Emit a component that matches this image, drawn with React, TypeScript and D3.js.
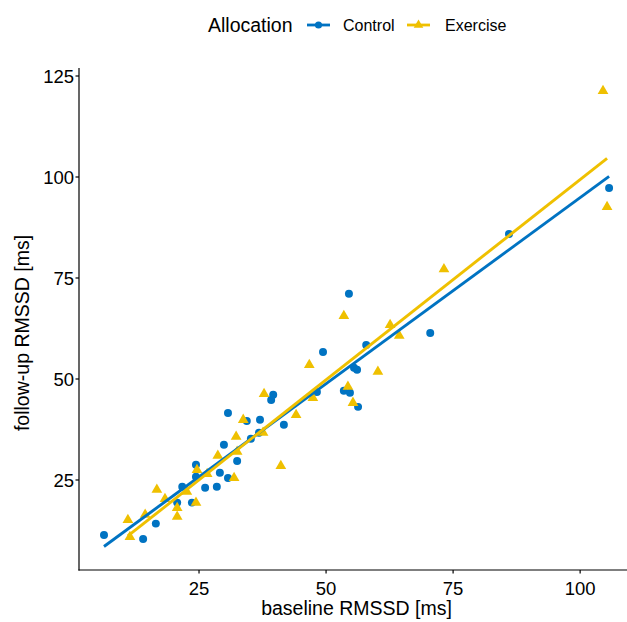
import * as d3 from "d3";

// baseline / follow-up RMSSD [ms]
const controlBaseline = [6.3, 14.0, 16.5, 20.7, 21.7, 23.6, 26.2, 28.5, 24.4, 24.4, 29.1, 30.7, 32.5, 29.9, 30.7, 34.4, 37.0, 35.2, 36.8, 39.2, 39.6, 41.7, 48.2, 49.4, 53.5, 54.7, 55.5, 56.1, 56.3, 57.9, 54.5, 70.5, 86.0, 105.7];
const controlFollowUp = [11.4, 10.4, 14.2, 19.4, 23.3, 19.4, 23.1, 23.3, 25.8, 28.8, 26.8, 25.5, 29.7, 33.7, 41.6, 39.6, 39.9, 35.2, 36.7, 44.8, 46.1, 38.7, 46.8, 56.7, 47.1, 46.6, 52.8, 52.3, 43.1, 58.4, 71.1, 61.4, 85.9, 97.3];
const exerciseBaseline = [11.0, 11.4, 14.4, 16.7, 18.3, 20.7, 20.7, 22.6, 24.4, 24.6, 26.6, 31.9, 28.7, 32.3, 32.5, 33.7, 37.6, 37.8, 41.1, 44.1, 47.4, 46.7, 53.5, 54.3, 55.3, 60.2, 62.6, 64.4, 73.2, 104.5, 105.3];
const exerciseFollowUp = [15.1, 10.9, 16.4, 22.6, 20.3, 18.1, 15.9, 22.1, 19.4, 27.5, 26.5, 25.5, 31.0, 35.7, 32.0, 39.9, 36.7, 46.3, 28.5, 41.1, 45.3, 53.5, 65.6, 48.1, 44.1, 51.8, 63.4, 60.7, 77.2, 121.3, 92.6];

const groups = ["Control", "Exercise"];
const colors = ["#0073C2", "#EFC000"];
const xTicks = [25, 50, 75, 100];
const yTicks = [25, 50, 75, 100, 125];

const W = 627;
const H = 622;
const PANEL = { left: 79, right: 634, top: 68, bottom: 570 };
const FONT = "'Liberation Sans', Arial, sans-serif";

// least squares fit, like geom_smooth(method = "lm")
function fit(xs: number[], ys: number[]) {
  const mx = d3.mean(xs)!;
  const my = d3.mean(ys)!;
  let num = 0;
  let den = 0;
  xs.forEach((x, i) => {
    num += (x - mx) * (ys[i] - my);
    den += (x - mx) * (x - mx);
  });
  const slope = num / den;
  return { slope, intercept: my - slope * mx };
}

export default function App() {
  const x = d3.scaleLinear().domain([1.38, 110.6]).range([PANEL.left, PANEL.right]);
  const y = d3.scaleLinear().domain([2.72, 126.98]).range([PANEL.bottom, PANEL.top]);

  const series = [
    { name: groups[0], color: colors[0], xs: controlBaseline, ys: controlFollowUp, shape: d3.symbolCircle },
    { name: groups[1], color: colors[1], xs: exerciseBaseline, ys: exerciseFollowUp, shape: d3.symbolTriangle },
  ];

  const symbol = (type: d3.SymbolType, size = 50) => d3.symbol().type(type).size(size)()!;
  const line = d3
    .line<[number, number]>()
    .x((d) => x(d[0]))
    .y((d) => y(d[1]));

  return (
    <div style={{ position: "absolute", left: 0, top: 0 }}>
      <svg width={W} height={H} style={{ display: "block", background: "#fff" }}>
        {/* legend */}
        <text x={208} y={32} fontFamily={FONT} fontSize={19.5} fill="#000">
          Allocation
        </text>
        {series.map((s, i) => {
          const kx = i === 0 ? 307 : 407;
          const tx = i === 0 ? 343 : 445;
          return (
            <g key={s.name}>
              <line x1={kx} x2={kx + 23} y1={25} y2={25} stroke={s.color} strokeWidth={2.8} />
              <path d={symbol(s.shape, 40)} transform={`translate(${kx + 11.5},25)`} fill={s.color} />
              <text x={tx} y={30.5} fontFamily={FONT} fontSize={16} fill="#000">
                {s.name}
              </text>
            </g>
          );
        })}

        {/* points */}
        {series.map((s) => (
          <g key={s.name + "-pts"}>
            {s.xs.map((v, i) => (
              <path
                key={i}
                d={symbol(s.shape)}
                transform={`translate(${x(v)},${y(s.ys[i])})`}
                fill={s.color}
              />
            ))}
          </g>
        ))}

        {/* fitted lines */}
        {series.map((s) => {
          const { slope, intercept } = fit(s.xs, s.ys);
          const [x0, x1] = d3.extent(s.xs) as [number, number];
          return (
            <path
              key={s.name + "-lm"}
              d={line([
                [x0, intercept + slope * x0],
                [x1, intercept + slope * x1],
              ])!}
              stroke={s.color}
              strokeWidth={2.9}
              fill="none"
            />
          );
        })}

        {/* axes */}
        <line x1={PANEL.left} x2={PANEL.left} y1={PANEL.top} y2={PANEL.bottom + 0.6} stroke="#000" strokeWidth={1.2} />
        <line x1={PANEL.left - 0.6} x2={W} y1={PANEL.bottom} y2={PANEL.bottom} stroke="#000" strokeWidth={1.2} />
        {yTicks.map((t) => (
          <g key={"y" + t}>
            <line x1={PANEL.left - 3.5} x2={PANEL.left} y1={y(t)} y2={y(t)} stroke="#000" strokeWidth={1.2} />
            <text x={PANEL.left - 5} y={y(t) + 6.7} textAnchor="end" fontFamily={FONT} fontSize={18.5} fill="#000">
              {t}
            </text>
          </g>
        ))}
        {xTicks.map((t) => (
          <g key={"x" + t}>
            <line x1={x(t)} x2={x(t)} y1={PANEL.bottom} y2={PANEL.bottom + 3.5} stroke="#000" strokeWidth={1.2} />
            <text x={x(t)} y={595} textAnchor="middle" fontFamily={FONT} fontSize={18.5} fill="#000">
              {t}
            </text>
          </g>
        ))}
        <text x={(PANEL.left + PANEL.right) / 2} y={615} textAnchor="middle" fontFamily={FONT} fontSize={19.5} fill="#000">
          baseline RMSSD [ms]
        </text>
        <text
          transform={`translate(29,333) rotate(-90)`}
          textAnchor="middle"
          fontFamily={FONT}
          fontSize={19.5}
          fill="#000"
        >
          follow-up RMSSD [ms]
        </text>
      </svg>
    </div>
  );
}
